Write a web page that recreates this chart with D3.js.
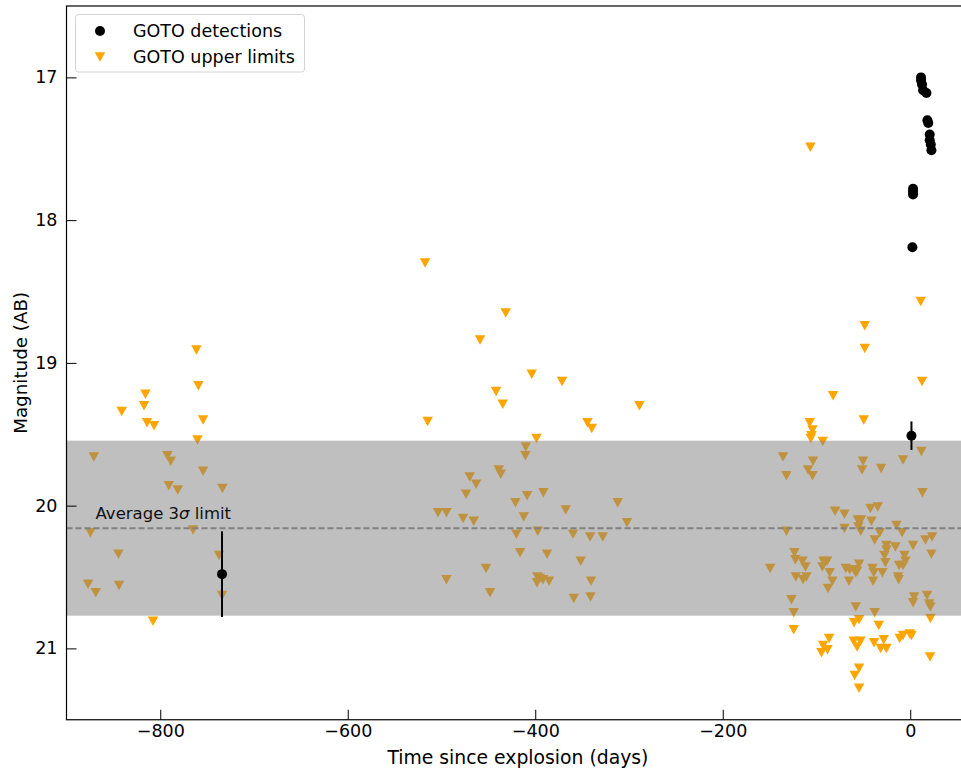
<!DOCTYPE html>
<html>
<head>
<meta charset="utf-8">
<script src="https://cdn.jsdelivr.net/npm/d3@7"></script>
<style>
  body { margin: 0; background: #fff; }
  svg { display: block; font-family: "DejaVu Sans", sans-serif; }
</style>
</head>
<body>
<svg id="chart" width="961" height="773"></svg>
<script>
// Axis ticks
const xTicks = [-800, -600, -400, -200, 0];
const yTicks = [17, 18, 19, 20, 21];

// GOTO detections: days since explosion, AB magnitude, 1-sigma error
const detDays = [11.5, 11.5, 12.6, 13.7, 17.3, 18.3, 19.2, 20.8, 20.8, 21.9, 22.6,
                 3.0, 3.0, 3.0, 2.3, 1.3, -734.1];
const detMags = [17.00, 17.02, 17.05, 17.09, 17.11, 17.30, 17.32, 17.40, 17.44, 17.47, 17.51,
                 17.78, 17.80, 17.82, 18.19, 19.51, 20.48];
const detErrs = [0.02, 0.02, 0.02, 0.02, 0.02, 0.02, 0.02, 0.02, 0.02, 0.02, 0.02,
                 0.02, 0.02, 0.02, 0.03, 0.10, 0.30];

// GOTO 3-sigma upper limits
const limDays = [
  // first season
  -761.4, -759.3, -815.8, -817.3, -841.1, -814.1, -806.6, -754.3, -760.3, -870.9,
  -792.3, -788.8, -754.3, -790.9, -781.3, -733.7, -874.5, -765.0, -844.6, -737.3,
  -877.0, -868.8, -844.0, -734.1, -807.7,
  // second season
  -517.5, -431.5, -458.9, -403.7, -371.4, -441.8, -434.7, -288.9, -514.7, -344.3,
  -339.7, -398.7, -410.1, -410.5, -438.9, -436.8, -469.9, -463.1, -473.8, -391.3,
  -408.7, -421.1, -312.0, -503.7, -494.7, -477.0, -465.6, -367.5, -412.3, -302.1,
  -397.3, -420.1, -359.7, -341.5, -328.0, -416.2, -387.4, -351.5, -452.5, -494.7,
  -397.7, -395.2, -391.7, -385.3, -398.1, -340.5, -448.2, -358.9, -341.1, -149.5,
  // third season
  -106.5, -48.5, -48.5, 11.2, 12.6, -82.3, -107.2, -104.3, -105.4, -106.1,
  -93.3, -49.6, 11.9, -7.7, -135.7, -103.7, -132.1, -109.0, -104.3, -50.3,
  -51.4, -31.1, 13.0, -80.2, -70.2, -42.5, -34.7, -56.0, -52.5, -41.4,
  -70.2, -55.3, -52.8, -132.1, -14.7, -8.7, -32.5, -37.9, 16.2, 23.3,
  -25.4, -15.8, 3.0, -25.4, -27.5, 22.6, -26.5, -6.2, -5.1, -7.7,
  -11.9, -123.5, -122.5, -115.0, -111.8, -92.6, -88.7, -93.7, -85.9, -122.1,
  -114.3, -110.7, -83.0, -87.7, -68.8, -64.5, -59.9, -54.6, -56.7, -58.1,
  -65.3, -40.3, -38.9, -29.7, -39.7, -13.0, -12.3, -126.7, -124.3, -124.3,
  -58.1, -54.6, -59.9, -37.9, -33.6, 4.1, 3.0, 17.9, 20.1, 21.5,
  21.5, -86.6, -93.0, -88.3, -94.7, -60.3, -53.1, -56.7, -38.6, -28.3,
  -31.5, -25.4, -11.2, -7.7, -0.5, 1.3, 21.1, -54.6, -59.2, -54.6
];
const limMags = [
  18.91, 19.16, 19.22, 19.30, 19.34, 19.42, 19.44, 19.40, 19.54, 19.66,
  19.65, 19.69, 19.76, 19.86, 19.89, 19.88, 20.19, 20.17, 20.34, 20.35,
  20.55, 20.61, 20.56, 20.63, 20.81,
  18.30, 18.65, 18.84, 19.08, 19.13, 19.20, 19.29, 19.30, 19.41, 19.42,
  19.46, 19.53, 19.59, 19.65, 19.75, 19.78, 19.80, 19.85, 19.92, 19.91,
  19.93, 19.98, 19.98, 20.05, 20.05, 20.09, 20.11, 20.03, 20.08, 20.12,
  20.18, 20.20, 20.20, 20.22, 20.22, 20.33, 20.34, 20.39, 20.44, 20.52,
  20.50, 20.51, 20.52, 20.53, 20.54, 20.53, 20.61, 20.65, 20.64, 20.44,
  17.49, 18.74, 18.90, 18.57, 19.13, 19.23, 19.42, 19.47, 19.51, 19.53,
  19.55, 19.40, 19.62, 19.68, 19.66, 19.69, 19.79, 19.75, 19.79, 19.69,
  19.75, 19.74, 19.91, 20.04, 20.06, 20.02, 20.01, 20.10, 20.10, 20.11,
  20.16, 20.15, 20.18, 20.18, 20.14, 20.19, 20.19, 20.24, 20.24, 20.22,
  20.28, 20.29, 20.28, 20.31, 20.35, 20.34, 20.40, 20.35, 20.39, 20.42,
  20.42, 20.33, 20.38, 20.39, 20.43, 20.39, 20.39, 20.43, 20.47, 20.50,
  20.52, 20.50, 20.53, 20.58, 20.44, 20.45, 20.45, 20.41, 20.46, 20.47,
  20.53, 20.44, 20.47, 20.47, 20.53, 20.50, 20.52, 20.66, 20.75, 20.87,
  20.71, 20.80, 20.82, 20.75, 20.84, 20.64, 20.68, 20.63, 20.69, 20.71,
  20.79, 20.93, 20.98, 21.01, 21.03, 20.95, 20.95, 20.99, 20.96, 20.94,
  21.00, 21.00, 20.93, 20.91, 20.90, 20.91, 21.06, 21.14, 21.19, 21.28
];

// Mean and scatter of the 3-sigma limits
const avgLimit = 20.158;
const limitScatter = 0.613;

const legendLabels = ["GOTO detections", "GOTO upper limits"];

const ORANGE = "#ffa500";

const svg = d3.select("#chart");
const plotLeft = 66.5, plotTop = 6, plotRight = 969.3, plotBottom = 719.75;

const x = d3.scaleLinear().domain([-900, 63]).range([plotLeft, plotRight]);
const y = d3.scaleLinear().domain([16.5, 21.5]).range([plotTop, plotBottom]);

const plot = svg.append("g");

// downward triangle centred on its bounding box
const triPath = (w, h) => `M0,${h / 2}L${-w / 2},${-h / 2}L${w / 2},${-h / 2}Z`;

plot.append("g").selectAll("path")
  .data(limDays.map((d, i) => [d, limMags[i]]))
  .join("path")
  .attr("d", triPath(10.5, 9.5))
  .attr("transform", d => `translate(${x(d[0])},${y(d[1])})`)
  .attr("fill", ORANGE);

// scatter band of the limits, laid over the limits
plot.append("rect")
  .attr("x", plotLeft)
  .attr("width", plotRight - plotLeft)
  .attr("y", y(avgLimit - limitScatter))
  .attr("height", y(avgLimit + limitScatter) - y(avgLimit - limitScatter))
  .attr("fill", "#808080")
  .attr("fill-opacity", 0.5);

plot.append("line")
  .attr("x1", plotLeft).attr("x2", plotRight)
  .attr("y1", y(avgLimit)).attr("y2", y(avgLimit))
  .attr("stroke", "#808080")
  .attr("stroke-width", 2)
  .attr("stroke-dasharray", "6,3");

const avgText = plot.append("text")
  .attr("x", x(-869)).attr("y", y(avgLimit) - 9.5)
  .attr("font-size", 16.5)
  .attr("fill", "#111");
avgText.append("tspan").text("Average 3");
avgText.append("tspan").attr("font-style", "italic").text("σ");
avgText.append("tspan").text(" limit");

// detections with error bars
const det = detDays.map((d, i) => ({ t: d, m: detMags[i], e: detErrs[i] }));
plot.append("g").selectAll("line")
  .data(det)
  .join("line")
  .attr("x1", d => x(d.t)).attr("x2", d => x(d.t))
  .attr("y1", d => y(d.m - d.e)).attr("y2", d => y(d.m + d.e))
  .attr("stroke", "#000").attr("stroke-width", 2);
plot.append("g").selectAll("circle")
  .data(det)
  .join("circle")
  .attr("cx", d => x(d.t)).attr("cy", d => y(d.m))
  .attr("r", 5)
  .attr("fill", "#000");

// axes with inward ticks
const xAxis = d3.axisBottom(x).tickValues(xTicks).tickSizeInner(-10).tickSizeOuter(0).tickPadding(5);
const yAxis = d3.axisLeft(y).tickValues(yTicks).tickSizeInner(-10).tickSizeOuter(0).tickPadding(9)
  .tickFormat(d3.format("d"));

const gx = svg.append("g").attr("transform", `translate(0,${plotBottom})`).call(xAxis);
const gy = svg.append("g").attr("transform", `translate(${plotLeft},0)`).call(yAxis);
[gx, gy].forEach(g => {
  g.select(".domain").remove();
  g.selectAll("text").attr("font-size", 17.5).attr("font-family", "DejaVu Sans").attr("fill", "#000");
  g.selectAll("line").attr("stroke", "#000").attr("stroke-width", 1);
});

// frame
svg.append("rect")
  .attr("x", plotLeft).attr("y", plotTop)
  .attr("width", plotRight - plotLeft).attr("height", plotBottom - plotTop)
  .attr("fill", "none").attr("stroke", "#000").attr("stroke-width", 1.2);

svg.append("text")
  .attr("x", (plotLeft + plotRight) / 2).attr("y", 764)
  .attr("text-anchor", "middle").attr("font-size", 18.8)
  .text("Time since explosion (days)");

svg.append("text")
  .attr("transform", `translate(27,${(plotTop + plotBottom) / 2}) rotate(-90)`)
  .attr("text-anchor", "middle").attr("font-size", 18.3)
  .text("Magnitude (AB)");

// legend
const lg = svg.append("g");
lg.append("rect")
  .attr("x", 75.5).attr("y", 14.5).attr("width", 229).attr("height", 57.5)
  .attr("rx", 3).attr("fill", "#fff").attr("fill-opacity", 0.8)
  .attr("stroke", "#d3d3d3").attr("stroke-width", 1);
lg.append("circle").attr("cx", 100).attr("cy", 31).attr("r", 5).attr("fill", "#000");
lg.append("path").attr("d", triPath(10.5, 9.5)).attr("transform", "translate(100,57)").attr("fill", ORANGE);
lg.selectAll("text.lbl")
  .data(legendLabels)
  .join("text")
  .attr("class", "lbl")
  .attr("x", 133)
  .attr("y", (d, i) => 36.5 + i * 26)
  .attr("font-size", 17.5)
  .text(d => d);
</script>
</body>
</html>
